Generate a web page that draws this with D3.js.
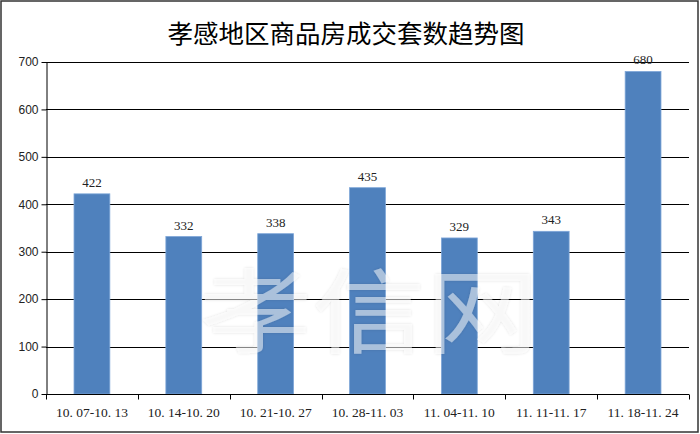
<!DOCTYPE html>
<html>
<head>
<meta charset="utf-8">
<script src="https://cdn.jsdelivr.net/npm/d3@7"></script>
<style>
  body { margin: 0; background: #fff; }
  svg { display: block; }
</style>
</head>
<body>
<script>
// chart data
var weeks = ["10.07-10.13", "10.14-10.20", "10.21-10.27", "10.28-11.03", "11.04-11.10", "11.11-11.17", "11.18-11.24"];
var sales = [422, 332, 338, 435, 329, 343, 680];
var yTicks = [0, 100, 200, 300, 400, 500, 600, 700];

var width = 700,
    height = 434;
var margin = {top: 62, right: 11, bottom: 40, left: 46};

var svg = d3.select("body")
    .append("svg")
    .attr("width", width)
    .attr("height", height);

//soft glow for the watermark
var defs = svg.append("defs");
var glow = defs.append("filter").attr("id", "glow")
    .attr("x", "-10%").attr("y", "-10%").attr("width", "120%").attr("height", "120%");
glow.append("feGaussianBlur").attr("in", "SourceAlpha").attr("stdDeviation", 1.5).attr("result", "b");
glow.append("feComponentTransfer").attr("in", "b").attr("result", "s")
    .append("feFuncA").attr("type", "linear").attr("slope", 0.25);
var merge = glow.append("feMerge");
merge.append("feMergeNode").attr("in", "s");
merge.append("feMergeNode").attr("in", "SourceGraphic");

//outer frame
svg.append("rect")
    .attr("x", 1).attr("y", 1)
    .attr("width", width - 3).attr("height", height - 3)
    .attr("fill", "#fff")
    .attr("stroke", "#333")
    .attr("stroke-width", 1.5);

//title
svg.append("text")
    .attr("x", 346).attr("y", 43)
    .attr("text-anchor", "middle")
    .style("font-family", "'Noto Sans CJK SC', sans-serif")
    .style("font-size", "25.5px")
    .text("孝感地区商品房成交套数趋势图");

var x = d3.scaleBand()
    .domain(weeks)
    .range([margin.left, width - margin.right])
    .paddingInner(0.61)
    .paddingOuter(0.305);

var xb = d3.scaleBand()
    .domain(weeks)
    .range([margin.left, width - margin.right]);

var y = d3.scaleLinear()
    .domain([0, 700])
    .range([height - margin.bottom, margin.top]);

//gridlines
svg.selectAll(".grid")
    .data(yTicks)
    .enter()
    .append("line")
    .attr("class", "grid")
    .attr("x1", margin.left).attr("x2", width - margin.right)
    .attr("y1", function(d){ return Math.round(y(d)) + 0.5; })
    .attr("y2", function(d){ return Math.round(y(d)) + 0.5; })
    .attr("stroke", "#000")
    .attr("stroke-width", 1);

//bars
svg.selectAll(".bar")
    .data(sales)
    .enter()
    .append("rect")
    .attr("class", "bar")
    .attr("x", function(d, i){ return x(weeks[i]); })
    .attr("y", function(d){ return y(d); })
    .attr("width", x.bandwidth())
    .attr("height", function(d){ return y(0) - y(d); })
    .attr("fill", "#4f81bd")
    .attr("stroke", "#7ea6d8")
    .attr("stroke-width", 0.8);

//value labels
svg.selectAll(".val")
    .data(sales)
    .enter()
    .append("text")
    .attr("class", "val")
    .attr("x", function(d, i){ return x(weeks[i]) + x.bandwidth() / 2; })
    .attr("y", function(d){ return y(d) - 7; })
    .attr("text-anchor", "middle")
    .style("font-family", "'Liberation Serif', serif")
    .style("font-size", "13px")
    .attr("fill", "#222")
    .text(function(d){ return d; });

//watermark
svg.append("text")
    .attr("x", 369).attr("y", 346)
    .attr("text-anchor", "middle")
    .style("font-family", "'Noto Sans CJK SC', sans-serif")
    .style("font-size", "92px")
    .attr("textLength", 340)
    .attr("lengthAdjust", "spacingAndGlyphs")
    .attr("fill", "#fff")
    .attr("fill-opacity", 0.5)
    .attr("filter", "url(#glow)")
    .text("孝信网");

//y axis
var yAxis = svg.append("g")
    .attr("transform", "translate(" + (margin.left + 0.5) + ",0)")
    .call(d3.axisLeft(y).tickValues(yTicks).tickSize(5).tickSizeOuter(0));
yAxis.select(".domain").attr("stroke", "#000");
yAxis.selectAll("text")
    .style("font-family", "'Liberation Sans', Arial, sans-serif")
    .style("font-size", "12px")
    .attr("fill", "#222");

//x axis with ticks at category boundaries
var xAxisG = svg.append("g")
    .attr("transform", "translate(0," + (Math.round(y(0)) + 0.5) + ")");
xAxisG.append("line")
    .attr("x1", margin.left).attr("x2", width - margin.right)
    .attr("stroke", "#000");
var bounds = weeks.map(function(w){ return xb(w); }).concat([width - margin.right]);
xAxisG.selectAll(".xtick")
    .data(bounds)
    .enter()
    .append("line")
    .attr("class", "xtick")
    .attr("x1", function(d){ return Math.round(d) + 0.5; })
    .attr("x2", function(d){ return Math.round(d) + 0.5; })
    .attr("y1", 0).attr("y2", 5)
    .attr("stroke", "#000");
xAxisG.selectAll(".xlab")
    .data(weeks)
    .enter()
    .append("text")
    .attr("class", "xlab")
    .attr("x", function(d){ return xb(d) + xb.bandwidth() / 2; })
    .attr("y", 22)
    .attr("text-anchor", "middle")
    .style("font-family", "'Liberation Serif', serif")
    .style("font-size", "13.5px")
    .style("white-space", "pre")
    .attr("fill", "#222")
    .text(function(d){ return d.replace(/\./g, ". "); });
</script>
</body>
</html>
